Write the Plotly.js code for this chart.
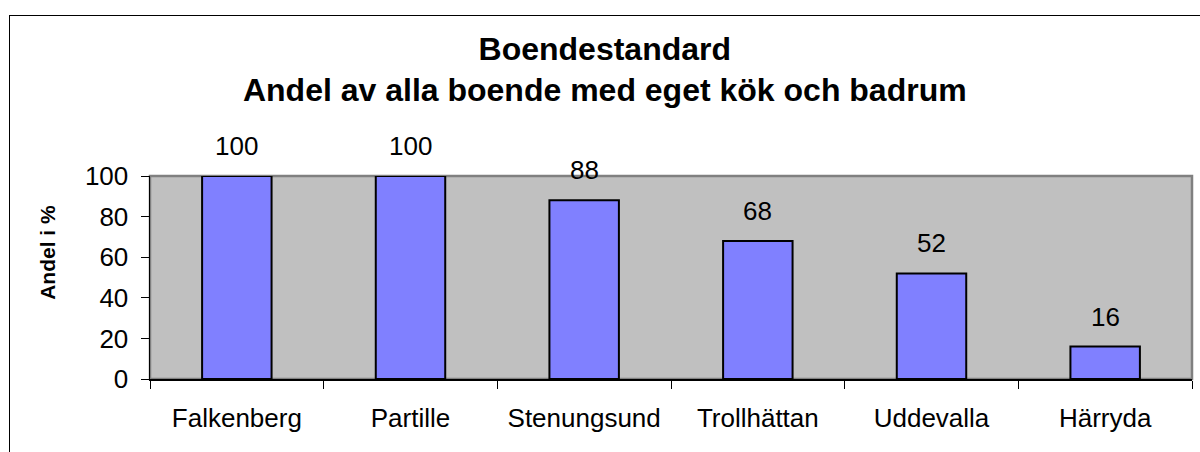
<!DOCTYPE html>
<html>
<head>
<meta charset="utf-8">
<script src="https://cdn.plot.ly/plotly-3.0.1.min.js"></script>
<style>
html,body{margin:0;padding:0;background:#fff;}
#wrap{position:relative;width:1200px;height:452px;overflow:hidden;}
#frame{position:absolute;left:9px;top:15px;width:1200px;height:460px;border:1.5px solid #000;box-sizing:border-box;pointer-events:none;}
#chart{position:absolute;left:0;top:0;width:1200px;height:452px;}
</style>
</head>
<body>
<div id="wrap">
<div id="chart"></div>
<div id="frame"></div>
</div>
<script>
const categories = ["Falkenberg", "Partille", "Stenungsund", "Trollhättan", "Uddevalla", "Härryda"];
const values = [100, 100, 88, 68, 52, 16];
const yTicks = [0, 20, 40, 60, 80, 100];

const font = "Liberation Sans, Arial, sans-serif";

const trace = {
  type: "bar",
  x: categories,
  y: values,
  marker: { color: "#8080ff", line: { color: "#000", width: 2 } },
  hoverinfo: "none"
};

const annotations = categories.map((c, i) => ({
  x: c, y: values[i], xref: "x", yref: "y",
  text: String(values[i]), showarrow: false,
  yshift: 30, font: { family: font, size: 26, color: "#000" }
}));

annotations.push({
  text: "<b>Andel i %</b>", textangle: -90,
  xref: "paper", yref: "paper", x: -0.098, y: 0.626,
  xanchor: "center", yanchor: "middle", showarrow: false,
  font: { family: font, size: 21, color: "#000" }
});

const layout = {
  width: 1200, height: 452,
  margin: { l: 150, r: 8, t: 176, b: 73 },
  paper_bgcolor: "rgba(0,0,0,0)",
  plot_bgcolor: "#c0c0c0",
  bargap: 0.6,
  showlegend: false,
  title: {
    text: "<b>Boendestandard<br>Andel av alla boende med eget kök och badrum</b>",
    font: { family: font, size: 32, color: "#000" },
    x: 0.504, xref: "container", xanchor: "center",
    y: 0.868, yref: "container", yanchor: "middle"
  },
  xaxis: {
    type: "category",
    tickson: "boundaries",
    ticks: "outside", ticklen: 8, tickcolor: "#000", tickwidth: 1,
    showline: true, linecolor: "#000", linewidth: 1.5,
    showgrid: false, zeroline: false,
    ticklabelstandoff: 15,
    tickfont: { family: font, size: 26, color: "#000" }
  },
  yaxis: {
    range: [0, 100],
    tickvals: yTicks,
    ticktext: yTicks.map(String),
    ticks: "outside", ticklen: 8, tickcolor: "#000", tickwidth: 1,
    showline: true, linecolor: "#000", linewidth: 1.5,
    showgrid: false, zeroline: false,
    ticklabelstandoff: 7,
    tickfont: { family: font, size: 26, color: "#000" }
  },
  shapes: [{
    type: "rect", xref: "paper", yref: "paper", x0: 0, x1: 1, y0: 0, y1: 1,
    line: { color: "#808080", width: 2.5 }, layer: "below"
  }],
  annotations: annotations
};

Plotly.newPlot("chart", [trace], layout, { staticPlot: true, displayModeBar: false });
</script>
</body>
</html>
